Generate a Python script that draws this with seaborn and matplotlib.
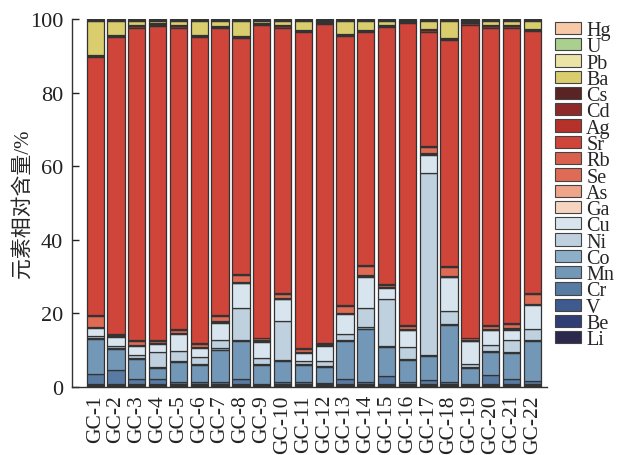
import matplotlib
matplotlib.use("Agg")
import matplotlib.pyplot as plt
from matplotlib.patches import Patch
import pandas as pd
import seaborn as sns

samples = ["GC-1", "GC-2", "GC-3", "GC-4", "GC-5", "GC-6", "GC-7", "GC-8", "GC-9", "GC-10", "GC-11",
           "GC-12", "GC-13", "GC-14", "GC-15", "GC-16", "GC-17", "GC-18", "GC-19", "GC-20", "GC-21", "GC-22"]

# element relative contents (%), bottom of stack first
Li = [0.3] * 22
Be = [0.2] * 22
V = [0.3] * 22
Cr = [2.7, 3.8, 1.4, 1.4, 0.5, 0.7, 0.7, 1.5, 0.1, 0.5, 0.5, 0.2, 1.4, 0.7, 2.1, 0.6, 1.0, 0.7, 0.1, 2.4, 1.5, 0.8]
Mn = [9.5, 5.7, 5.4, 3.0, 5.5, 4.5, 8.7, 10.2, 5.2, 5.7, 4.7, 4.5, 10.4, 14.4, 8.0, 6.0, 6.7, 15.3, 4.3, 6.3, 6.9, 10.9]
Co = [0.3] * 22
Ni = [0.7, 0.6, 0.7, 4.0, 2.8, 1.8, 2.3, 8.6, 1.6, 10.6, 0.9, 1.2, 1.4, 5.4, 12.7, 3.1, 49.5, 3.6, 0.8, 1.5, 3.3, 3.0]
Cu = [2.0, 2.5, 2.5, 2.2, 4.5, 2.5, 4.7, 6.8, 4.2, 5.9, 2.0, 4.2, 5.5, 8.4, 3.0, 4.6, 4.8, 9.1, 6.1, 4.1, 2.8, 6.5]
Ga = [0.2] * 22
As = [0.2] * 22
Se = [3.0, 0.1, 1.1, 0.3, 0.6, 0.7, 1.4, 1.8, 0.3, 1.1, 0.7, 0.1, 1.7, 2.6, 0.4, 0.7, 1.6, 2.3, 0.1, 0.7, 1.1, 2.6]
Rb = [0.3] * 22
Sr = [70.0, 80.5, 84.8, 85.5, 82.0, 83.0, 78.0, 64.1, 85.2, 72.1, 85.8, 86.6, 73.1, 63.1, 69.9, 82.0, 31.2, 61.5, 85.3, 80.9, 80.3, 71.2]
Ag = [0.3] * 22
Cd = [0.1] * 22
Cs = [0.2] * 22
Ba = [9.3, 4.0, 1.3, 0.8, 1.3, 4.0, 1.4, 4.2, 0.6, 1.3, 2.6, 0.4, 3.7, 2.6, 1.1, 0.2, 2.4, 4.7, 0.5, 1.3, 1.3, 2.2]
Pb = [0.2] * 22
U = [0.1] * 22
Hg = [0.1] * 22

elements = ["Li", "Be", "V", "Cr", "Mn", "Co", "Ni", "Cu", "Ga", "As", "Se", "Rb", "Sr",
            "Ag", "Cd", "Cs", "Ba", "Pb", "U", "Hg"]
series = [Li, Be, V, Cr, Mn, Co, Ni, Cu, Ga, As, Se, Rb, Sr, Ag, Cd, Cs, Ba, Pb, U, Hg]
colors = ["#2b2a4c", "#2f3e75", "#3e5a8e", "#577ba3", "#7397b7", "#8db0c8", "#bfd0df", "#d9e5ee",
          "#f6d5c0", "#efa58a", "#e06b55", "#d9604d", "#d0453a", "#b5322b", "#8f2a2a", "#5a2424",
          "#d9cd6e", "#ece3a6", "#a9d08e", "#f7c9a7"]

rows = []
for el, vals in zip(elements, series):
    for s, v in zip(samples, vals):
        rows.append({"sample": s, "element": el, "value": v})
df = pd.DataFrame(rows)
df["sample"] = pd.Categorical(df["sample"], categories=samples, ordered=True)

sns.set_theme(style="ticks")
plt.rcParams["font.family"] = ["Liberation Serif", "Noto Sans CJK SC"]

fig = plt.figure(figsize=(6.18, 4.56), dpi=100)
ax = fig.add_axes([0.116, 0.149, 0.769, 0.807])

hue_order = elements[::-1]
palette = dict(zip(elements, colors))
sns.histplot(data=df, x="sample", weights="value", hue="element", hue_order=hue_order,
             multiple="stack", palette=palette, discrete=True, shrink=0.83,
             edgecolor="#333333", linewidth=0.9, alpha=1, legend=False, ax=ax)

ax.set_xlim(-1.13, 21.7)
ax.set_ylim(0, 100)
ax.set_yticks([0, 20, 40, 60, 80, 100])
ax.set_xticks(range(len(samples)))
ax.set_xticklabels(samples, rotation=90, fontsize=15.5)
ax.tick_params(axis="y", direction="in", length=5, labelsize=16, width=1, colors="#222222", pad=6)
ax.tick_params(axis="x", length=0, pad=5, colors="#222222")
ax.set_xlabel("")
ax.set_ylabel("元素相对含量/%", fontsize=15)
ax.yaxis.set_label_coords(-0.083, 0.5)
for side in ["top", "right"]:
    ax.spines[side].set_visible(False)
for side in ["left", "bottom"]:
    ax.spines[side].set_color("#333333")
    ax.spines[side].set_linewidth(1.0)

handles = [Patch(facecolor=palette[e], edgecolor="#444444", linewidth=0.8, label=e) for e in hue_order]
fig.legend(handles=handles, loc="upper left", bbox_to_anchor=(555 / 618, 1 - 22 / 456),
           frameon=False, fontsize=14.5, handlelength=1.3, handleheight=0.56,
           handletextpad=0.25, labelspacing=-0.135, borderpad=0, borderaxespad=0)

fig.savefig("out.png", dpi=100)
